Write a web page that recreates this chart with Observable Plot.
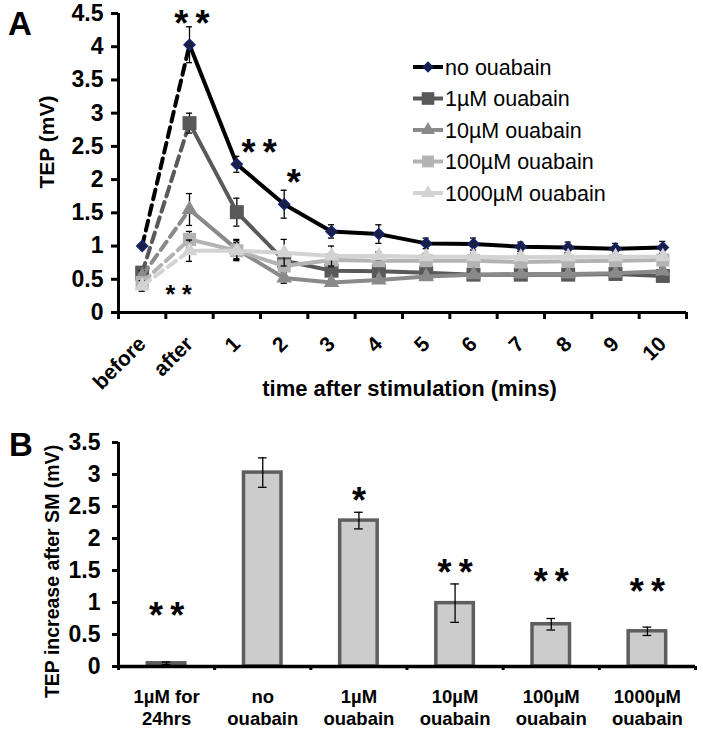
<!DOCTYPE html>
<html><head><meta charset="utf-8">
<script src="https://cdn.jsdelivr.net/npm/d3@7"></script>
<script src="https://cdn.jsdelivr.net/npm/@observablehq/plot@0.6"></script>
<style>
body{margin:0;background:#fff;}
#wrap{position:relative;width:703px;height:731px;overflow:hidden;font-family:"Liberation Sans",Arial,sans-serif;}
.panel{position:absolute;left:0;}
#overlay{position:absolute;left:0;top:0;pointer-events:none;}
</style></head><body>
<div id="wrap">
  <div id="pa" class="panel" style="top:0px"></div>
  <div id="pb" class="panel" style="top:430px"></div>
  <svg id="overlay" width="703" height="731"></svg>
</div>
<script>
// ---------- Panel A data ----------
const timeLabels = ["before","after","1","2","3","4","5","6","7","8","9","10"];
const seriesNames = ["no ouabain","1µM ouabain","10µM ouabain","100µM ouabain","1000µM ouabain"];
const noOuabain   = [1.00, 4.03, 2.23, 1.63, 1.22, 1.18, 1.04, 1.03, 0.99, 0.98, 0.96, 0.98];
const errNo       = [0.00, 0.27, 0.12, 0.21, 0.10, 0.14, 0.08, 0.09, 0.07, 0.08, 0.08, 0.09];
const ouabain1    = [0.60, 2.85, 1.51, 0.78, 0.63, 0.62, 0.60, 0.57, 0.57, 0.57, 0.58, 0.55];
const err1        = [0.08, 0.15, 0.21, 0.10, 0.05, 0.05, 0.05, 0.05, 0.05, 0.05, 0.05, 0.06];
const ouabain10   = [0.55, 1.55, 0.95, 0.52, 0.45, 0.49, 0.54, 0.57, 0.58, 0.58, 0.59, 0.62];
const err10       = [0.08, 0.24, 0.15, 0.08, 0.05, 0.05, 0.05, 0.05, 0.05, 0.05, 0.05, 0.06];
const ouabain100  = [0.45, 1.10, 0.93, 0.70, 0.79, 0.78, 0.78, 0.78, 0.76, 0.77, 0.78, 0.79];
const err100      = [0.08, 0.12, 0.12, 0.08, 0.10, 0.05, 0.05, 0.05, 0.05, 0.05, 0.05, 0.05];
const ouabain1000 = [0.40, 0.93, 0.93, 0.90, 0.85, 0.85, 0.84, 0.84, 0.83, 0.84, 0.84, 0.84];
const err1000     = [0.08, 0.16, 0.15, 0.20, 0.15, 0.06, 0.05, 0.05, 0.05, 0.05, 0.05, 0.05];
const yTicksA = [0, 0.5, 1, 1.5, 2, 2.5, 3, 3.5, 4, 4.5];
const sigTextA = ["*\u2009*", "*\u2009*", "*", "* *"];
const sigXA    = [1.05, 2.47, 3.2, 0.77];
const sigYA    = [4.47, 2.53, 2.08, 0.35];

// ---------- Panel B data ----------
const barCategories = ["1µM for\n24hrs","no\nouabain","1µM\nouabain","10µM\nouabain","100µM\nouabain","1000µM\nouabain"];
const barValues = [0.05, 3.03, 2.28, 0.99, 0.66, 0.55];
const barErr    = [0.02, 0.23, 0.13, 0.30, 0.09, 0.065];
const sigTextB  = ["*\u2009*", "", "*", "*\u2009*", "*\u2009*", "*\u2009*"];
const sigYB     = [0.93, 0, 2.72, 1.60, 1.45, 1.30];
const yTicksB = [0, 0.5, 1, 1.5, 2, 2.5, 3, 3.5];

// ---------- styles ----------
const FONT = "'Liberation Sans', Arial, sans-serif";
const lineColors = ["#000000", "#595959", "#8a8a8a", "#b3b3b3", "#d3d3d3"];
const markFill   = ["#1b1f45", "#595959", "#8a8a8a", "#b3b3b3", "#d3d3d3"];
const markStroke = ["#12246b", "#595959", "#8a8a8a", "#b3b3b3", "#d3d3d3"];
const symbolsA   = ["diamond2", "square", "triangle", "square", "triangle"];
const radiiA     = [4.9, 7.9, 5.8, 7.4, 5.8];

const seriesA = [
  {values: noOuabain, err: errNo},
  {values: ouabain1, err: err1},
  {values: ouabain10, err: err10},
  {values: ouabain100, err: err100},
  {values: ouabain1000, err: err1000}
];

// ---------- Panel A ----------
const capA = 0.065;
const marksA = [];
seriesA.forEach((s, k) => {
  const rows = s.values.map((v, i) => ({i, v, e: s.err[i]}));
  marksA.push(Plot.line(rows.filter(d => d.i <= 1), {x: "i", y: "v", stroke: lineColors[k], strokeWidth: 4, strokeDasharray: "10,6"}));
  marksA.push(Plot.line(rows.filter(d => d.i >= 1), {x: "i", y: "v", stroke: lineColors[k], strokeWidth: 4, strokeLinejoin: "round"}));
  const er = rows.filter(d => d.e > 0);
  marksA.push(Plot.ruleX(er, {x: "i", y1: d => d.v - d.e, y2: d => d.v + d.e, stroke: "#000", strokeWidth: 1.3}));
  marksA.push(Plot.ruleY(er, {y: d => d.v + d.e, x1: d => d.i - capA, x2: d => d.i + capA, stroke: "#000", strokeWidth: 1.3}));
  marksA.push(Plot.ruleY(er, {y: d => d.v - d.e, x1: d => d.i - capA, x2: d => d.i + capA, stroke: "#000", strokeWidth: 1.3}));
  marksA.push(Plot.dot(rows, {x: "i", y: "v", symbol: symbolsA[k], r: radiiA[k], fill: markFill[k], stroke: markStroke[k], strokeWidth: k === 0 ? 1.5 : 0}));
});
const sigRowsA = sigTextA.map((t, j) => ({t, x: sigXA[j], y: sigYA[j], small: j === 3}));
const xLabelRows = timeLabels.map((l, i) => ({l, i}));

const chartA = Plot.plot({
  width: 703, height: 405,
  marginLeft: 118, marginRight: 17, marginTop: 13, marginBottom: 93,
  style: {fontFamily: FONT, fontWeight: "bold", fontSize: "22px", background: "transparent", overflow: "visible"},
  x: {type: "linear", domain: [-0.5, timeLabels.length - 0.5], axis: null},
  y: {domain: [0, 4.5], axis: null},
  marks: [
    ...marksA,
    Plot.text(sigRowsA.filter(d => !d.small), {x: "x", y: "y", text: "t", fontSize: 36, fontWeight: "bold", dy: 9, fill: "#000"}),
    Plot.text(sigRowsA.filter(d => d.small), {x: "x", y: "y", text: "t", fontSize: 25, fontWeight: "bold", dy: 6, fill: "#000"}),
    Plot.ruleX([-0.5], {y1: 0, y2: 4.5, stroke: "#000", strokeWidth: 3}),
    Plot.ruleY([0], {x1: -0.5, x2: timeLabels.length - 0.5, stroke: "#000", strokeWidth: 3}),
    // y ticks and labels
    Plot.axisY({ticks: yTicksA, tickSize: 7, strokeWidth: 3, tickFormat: () => "", label: null}),
    Plot.text(yTicksA, {x: -0.5, y: d => d, text: d => String(d), textAnchor: "end", dx: -15, fontSize: 23, fontWeight: "bold"}),
    // x ticks and rotated labels
    Plot.axisX({ticks: d3.range(timeLabels.length + 1).map(i => i - 0.5), tickSize: 7, strokeWidth: 3, tickFormat: () => "", label: null}),
    Plot.text(xLabelRows, {x: "i", y: 0, text: "l", rotate: -45, textAnchor: "end", dx: 0, dy: 28, fontSize: 21, fontWeight: "bold"}),
    Plot.text(["time after stimulation (mins)"], {frameAnchor: "bottom", dx: 7, dy: 83, fontSize: 22, fontWeight: "bold"}),
    Plot.text(["TEP (mV)"], {frameAnchor: "left", textAnchor: "middle", dx: -71, dy: -21, rotate: -90, fontSize: 21, fontWeight: "bold"})
  ]
});
document.getElementById("pa").appendChild(chartA);

// ---------- Panel B ----------
const hw = 0.195, capB = 0.045;
const rowsB = barValues.map((v, i) => ({i, v, e: barErr[i], t: sigTextB[i], sy: sigYB[i]}));
const chartB = Plot.plot({
  width: 703, height: 301,
  marginLeft: 118, marginRight: 8, marginTop: 12, marginBottom: 65,
  style: {fontFamily: FONT, fontWeight: "bold", fontSize: "22px", background: "transparent", overflow: "visible"},
  x: {type: "linear", domain: [-0.5, barCategories.length - 0.5], axis: null},
  y: {domain: [0, 3.5], axis: null},
  marks: [
    Plot.rect(rowsB, {x1: d => d.i - hw, x2: d => d.i + hw, y1: 0, y2: "v", fill: "#cccccc", stroke: "#5e5e5e", strokeWidth: 3.5}),
    Plot.ruleX(rowsB, {x: "i", y1: d => d.v - d.e, y2: d => d.v + d.e, stroke: "#000", strokeWidth: 1.3}),
    Plot.ruleY(rowsB, {y: d => d.v + d.e, x1: d => d.i - capB, x2: d => d.i + capB, stroke: "#000", strokeWidth: 1.3}),
    Plot.ruleY(rowsB, {y: d => d.v - d.e, x1: d => d.i - capB, x2: d => d.i + capB, stroke: "#000", strokeWidth: 1.3}),
    Plot.text(rowsB.filter(d => d.t), {x: "i", y: "sy", text: "t", fontSize: 36, fontWeight: "bold", dy: 9}),
    Plot.ruleX([-0.5], {y1: 0, y2: 3.5, stroke: "#000", strokeWidth: 3}),
    Plot.ruleY([0], {x1: -0.5, x2: barCategories.length - 0.5, stroke: "#000", strokeWidth: 3.5}),
    Plot.axisY({ticks: yTicksB, tickSize: 6, strokeWidth: 3, tickFormat: () => "", label: null}),
    Plot.text(yTicksB, {x: -0.5, y: d => d, text: d => String(d), textAnchor: "end", dx: -18, fontSize: 23, fontWeight: "bold"}),
    Plot.axisX({ticks: d3.range(barCategories.length + 1).map(i => i - 0.5), tickSize: 4, strokeWidth: 3, tickFormat: () => "", label: null}),
    Plot.axisX({ticks: d3.range(barCategories.length), tickSize: 0, tickPadding: 20, tickFormat: i => barCategories[i], label: null, fontSize: 18.5, lineHeight: 1.22}),
    Plot.text(["TEP increase after SM (mV)"], {frameAnchor: "left", textAnchor: "middle", dx: -66, dy: 17, rotate: -90, fontSize: 19.5, fontWeight: "bold"})
  ]
});
document.getElementById("pb").appendChild(chartB);

// ---------- overlay: panel letters and legend ----------
const ov = d3.select("#overlay").style("font-family", FONT);
ov.append("text").attr("x", 8).attr("y", 35).attr("font-size", 33).attr("font-weight", "bold").text("A");
ov.append("text").attr("x", 9).attr("y", 456).attr("font-size", 33).attr("font-weight", "bold").text("B");

const legend = ov.append("g").attr("transform", "translate(413,67)");
seriesNames.forEach((name, k) => {
  const g = legend.append("g").attr("transform", `translate(0,${k * 31.5})`);
  g.append("line").attr("x1", 0).attr("x2", 30).attr("y1", 0).attr("y2", 0)
    .attr("stroke", lineColors[k]).attr("stroke-width", 4);
  const symType = {diamond2: d3.symbolDiamond2, square: d3.symbolSquare, triangle: d3.symbolTriangle}[symbolsA[k]];
  const r = k === 0 ? 4.2 : radiiA[k] * 0.9;
  g.append("path").attr("transform", "translate(15,0)")
    .attr("d", d3.symbol(symType, Math.PI * r * r)())
    .attr("fill", markFill[k]).attr("stroke", markStroke[k]).attr("stroke-width", k === 0 ? 1.5 : 0);
  g.append("text").attr("x", 32).attr("y", 0).attr("dy", "0.35em")
    .attr("font-size", 21.5).attr("fill", "#000").text(name);
});
</script>
</body></html>
